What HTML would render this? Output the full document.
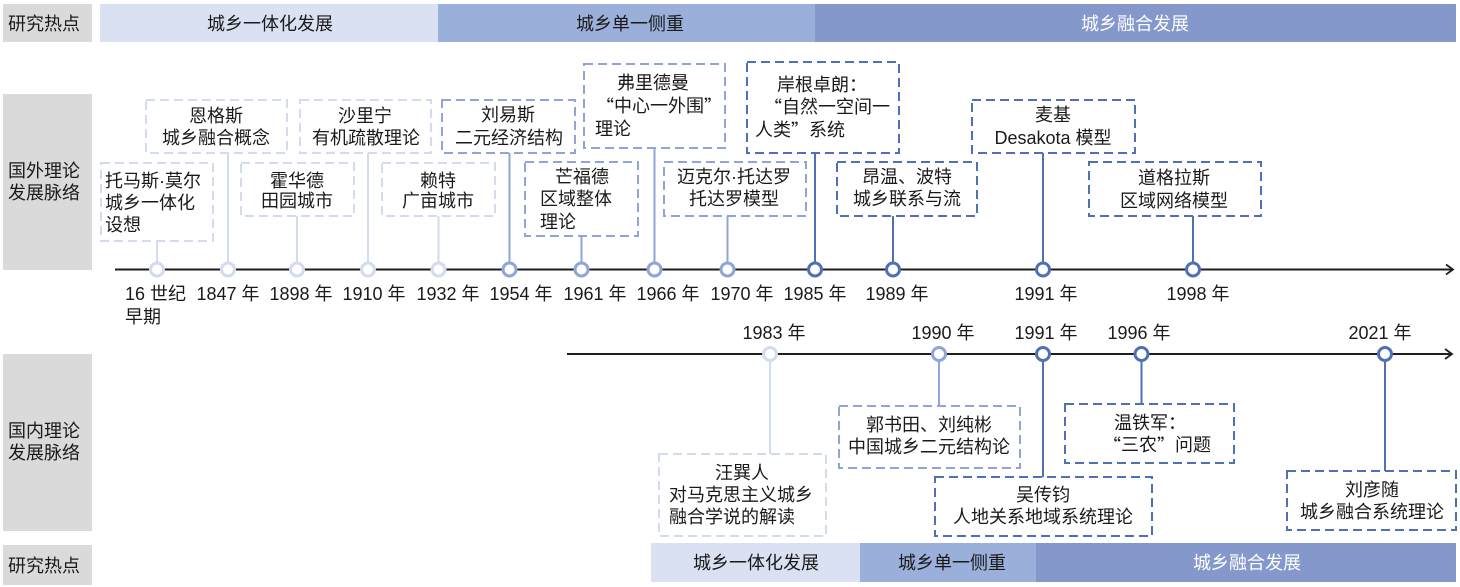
<!DOCTYPE html>
<html><head><meta charset="utf-8">
<style>
html,body{margin:0;padding:0;background:#fff;}
svg{display:block;}
text{font-family:"Liberation Sans","Noto Sans CJK SC",sans-serif;font-size:18px;fill:#1a1a1a;dominant-baseline:central;}
.q{font-family:"Noto Sans CJK SC","Liberation Sans",sans-serif;}
.m{text-anchor:middle;}
.w{fill:#ffffff;}
.bl{fill:none;stroke:#d3dbef;stroke-width:2;stroke-dasharray:9 5;}
.bm{fill:none;stroke:#8fa5d7;stroke-width:2;stroke-dasharray:9 5;}
.bd{fill:none;stroke:#4e71b6;stroke-width:2;stroke-dasharray:9 5;}
.cl{stroke:#d3dbef;stroke-width:2;}
.cm{stroke:#8fa5d7;stroke-width:2;}
.cd{stroke:#4e71b6;stroke-width:2;}
.ol{fill:#fff;stroke:#d3dbef;stroke-width:3;}
.om{fill:#fff;stroke:#8fa5d7;stroke-width:3;}
.od{fill:#fff;stroke:#4e71b6;stroke-width:3;}
</style></head>
<body>
<svg width="1460" height="587" viewBox="0 0 1460 587" xmlns="http://www.w3.org/2000/svg">
<!-- left labels -->
<rect x="3" y="4" width="89" height="38" fill="#d9dad9"/>
<text x="8" y="24">研究热点</text>
<rect x="3" y="94" width="89" height="176" fill="#d9dad9"/>
<text x="8" y="171">国外理论</text>
<text x="8" y="193">发展脉络</text>
<rect x="3" y="354" width="89" height="177" fill="#d9dad9"/>
<text x="8" y="431">国内理论</text>
<text x="8" y="453">发展脉络</text>
<rect x="3" y="545" width="89" height="40" fill="#d9dad9"/>
<text x="8" y="566">研究热点</text>

<!-- top bar -->
<rect x="100" y="4" width="338" height="38" fill="#dae1f2"/>
<rect x="438" y="4" width="377" height="38" fill="#9bafdb"/>
<rect x="815" y="4" width="641" height="38" fill="#8598cc"/>
<text class="m" x="270" y="24">城乡一体化发展</text>
<text class="m" x="630" y="24">城乡单一侧重</text>
<text class="m w" x="1135" y="24">城乡融合发展</text>

<!-- bottom bar -->
<rect x="651" y="543" width="209" height="39" fill="#dae1f2"/>
<rect x="860" y="543" width="176" height="39" fill="#9bafdb"/>
<rect x="1036" y="543" width="420" height="39" fill="#8598cc"/>
<text class="m" x="756" y="563">城乡一体化发展</text>
<text class="m" x="952" y="563">城乡单一侧重</text>
<text class="m w" x="1247" y="563">城乡融合发展</text>

<!-- timeline 1 -->
<line x1="115" y1="269.5" x2="1452" y2="269.5" stroke="#1e1e1e" stroke-width="2"/>
<polyline points="1446,264.5 1453,269.5 1446,274.5" fill="none" stroke="#1e1e1e" stroke-width="1.8"/>

<!-- connectors timeline 1 -->
<line class="cl" x1="157" y1="241" x2="157" y2="269"/>
<line class="cl" x1="228" y1="153" x2="228" y2="269"/>
<line class="cl" x1="297" y1="216" x2="297" y2="269"/>
<line class="cl" x1="368" y1="153" x2="368" y2="269"/>
<line class="cl" x1="438.5" y1="216" x2="438.5" y2="269"/>
<line class="cm" x1="509.5" y1="153" x2="509.5" y2="269"/>
<line class="cm" x1="581.5" y1="236" x2="581.5" y2="269"/>
<line class="cm" x1="654.5" y1="148" x2="654.5" y2="269"/>
<line class="cm" x1="727.5" y1="216" x2="727.5" y2="269"/>
<line class="cd" x1="815" y1="153" x2="815" y2="269"/>
<line class="cd" x1="893" y1="216" x2="893" y2="269"/>
<line class="cd" x1="1043" y1="153" x2="1043" y2="269"/>
<line class="cd" x1="1193" y1="216" x2="1193" y2="269"/>

<!-- boxes timeline 1 -->
<rect class="bl" x="146" y="100" width="141" height="53"/>
<rect class="bl" x="300" y="100" width="131" height="53"/>
<rect class="bm" x="442" y="100" width="133" height="53"/>
<rect class="bm" x="584" y="64" width="141" height="84"/>
<rect class="bd" x="747" y="62" width="152" height="91"/>
<rect class="bd" x="972" y="100" width="163" height="53"/>
<rect class="bl" x="101" y="163" width="112" height="78"/>
<rect class="bl" x="241" y="163" width="113" height="53"/>
<rect class="bl" x="382" y="163" width="113" height="53"/>
<rect class="bm" x="525" y="162" width="113" height="74"/>
<rect class="bm" x="664" y="162" width="142" height="54"/>
<rect class="bd" x="837" y="162" width="140" height="54"/>
<rect class="bd" x="1089" y="162" width="172" height="54"/>

<!-- circles timeline 1 -->
<circle class="ol" cx="157" cy="269.5" r="6.5"/>
<circle class="ol" cx="228" cy="269.5" r="6.5"/>
<circle class="ol" cx="297" cy="269.5" r="6.5"/>
<circle class="ol" cx="368" cy="269.5" r="6.5"/>
<circle class="ol" cx="438.5" cy="269.5" r="6.5"/>
<circle class="om" cx="509.5" cy="269.5" r="6.5"/>
<circle class="om" cx="581.5" cy="269.5" r="6.5"/>
<circle class="om" cx="654.5" cy="269.5" r="6.5"/>
<circle class="om" cx="727.5" cy="269.5" r="6.5"/>
<circle class="od" cx="815" cy="269.5" r="6.5"/>
<circle class="od" cx="893" cy="269.5" r="6.5"/>
<circle class="od" cx="1043" cy="269.5" r="6.5"/>
<circle class="od" cx="1193" cy="269.5" r="6.5"/>

<!-- box texts timeline 1 -->
<text class="m" x="216" y="116">恩格斯</text>
<text class="m" x="216" y="138">城乡融合概念</text>
<text class="m" x="365" y="116">沙里宁</text>
<text class="m" x="366" y="138">有机疏散理论</text>
<text class="m" x="508" y="115">刘易斯</text>
<text class="m" x="509" y="138">二元经济结构</text>
<text class="m" x="653" y="83">弗里德曼</text>
<text class="m" x="659" y="106"><tspan class="q">“</tspan>中心一外围<tspan class="q">”</tspan></text>
<text x="595" y="129">理论</text>
<text x="777" y="85">岸根卓朗：</text>
<text x="764" y="107"><tspan class="q">“</tspan>自然一空间一</text>
<text x="755" y="130">人类<tspan class="q">”</tspan>系统</text>
<text class="m" x="1053" y="115">麦基</text>
<text class="m" x="1053" y="138">Desakota 模型</text>

<text x="105" y="181">托马斯·莫尔</text>
<text x="105" y="203">城乡一体化</text>
<text x="105" y="225">设想</text>
<text class="m" x="297" y="181">霍华德</text>
<text class="m" x="297" y="201">田园城市</text>
<text class="m" x="438" y="181">赖特</text>
<text class="m" x="438" y="201">广亩城市</text>
<text class="m" x="582" y="177">芒福德</text>
<text x="540" y="199">区域整体</text>
<text x="540" y="222">理论</text>
<text class="m" x="734" y="177">迈克尔·托达罗</text>
<text class="m" x="734" y="199">托达罗模型</text>
<text x="862" y="177">昂温、波特</text>
<text x="853" y="199">城乡联系与流</text>
<text class="m" x="1174" y="178">道格拉斯</text>
<text class="m" x="1174" y="201">区域网络模型</text>

<!-- year labels timeline 1 -->
<text x="125" y="294">16 世纪</text>
<text x="125" y="317">早期</text>
<text class="m" x="228" y="294">1847 年</text>
<text class="m" x="301" y="294">1898 年</text>
<text class="m" x="374" y="294">1910 年</text>
<text class="m" x="448" y="294">1932 年</text>
<text class="m" x="521" y="294">1954 年</text>
<text class="m" x="595" y="294">1961 年</text>
<text class="m" x="668" y="294">1966 年</text>
<text class="m" x="742" y="294">1970 年</text>
<text class="m" x="815" y="294">1985 年</text>
<text class="m" x="897" y="294">1989 年</text>
<text class="m" x="1046" y="294">1991 年</text>
<text class="m" x="1198" y="294">1998 年</text>

<!-- timeline 2 -->
<line x1="567" y1="354" x2="1451" y2="354" stroke="#1e1e1e" stroke-width="2"/>
<polyline points="1445,349 1452,354 1445,359" fill="none" stroke="#1e1e1e" stroke-width="1.8"/>

<line class="cl" x1="770" y1="354" x2="770" y2="454"/>
<line class="cm" x1="939" y1="354" x2="939" y2="406"/>
<line class="cd" x1="1043" y1="354" x2="1043" y2="477"/>
<line class="cd" x1="1141.5" y1="354" x2="1141.5" y2="404"/>
<line class="cd" x1="1385" y1="354" x2="1385" y2="471"/>

<rect class="bl" x="659" y="454" width="167" height="82"/>
<rect class="bm" x="839" y="406" width="181" height="62"/>
<rect class="bd" x="935" y="477" width="217" height="59"/>
<rect class="bd" x="1065" y="404" width="169" height="59"/>
<rect class="bd" x="1287" y="471" width="169" height="59"/>

<circle class="ol" cx="770" cy="354" r="6.5"/>
<circle class="om" cx="939" cy="354" r="6.5"/>
<circle class="od" cx="1043" cy="354" r="6.5"/>
<circle class="od" cx="1141.5" cy="354" r="6.5"/>
<circle class="od" cx="1385" cy="354" r="6.5"/>

<text class="m" x="774" y="333">1983 年</text>
<text class="m" x="943" y="333">1990 年</text>
<text class="m" x="1046" y="333">1991 年</text>
<text class="m" x="1139" y="333">1996 年</text>
<text class="m" x="1380" y="333">2021 年</text>

<text class="m" x="742" y="473">汪巽人</text>
<text x="669" y="495">对马克思主义城乡</text>
<text x="669" y="517">融合学说的解读</text>
<text class="m" x="929" y="425">郭书田、刘纯彬</text>
<text class="m" x="929" y="447">中国城乡二元结构论</text>
<text class="m" x="1043" y="495">吴传钧</text>
<text class="m" x="1043" y="517">人地关系地域系统理论</text>
<text x="1114" y="423">温铁军：</text>
<text x="1103" y="445"><tspan class="q">“</tspan>三农<tspan class="q">”</tspan>问题</text>
<text class="m" x="1372" y="490">刘彦随</text>
<text class="m" x="1372" y="512">城乡融合系统理论</text>
</svg>
</body></html>
